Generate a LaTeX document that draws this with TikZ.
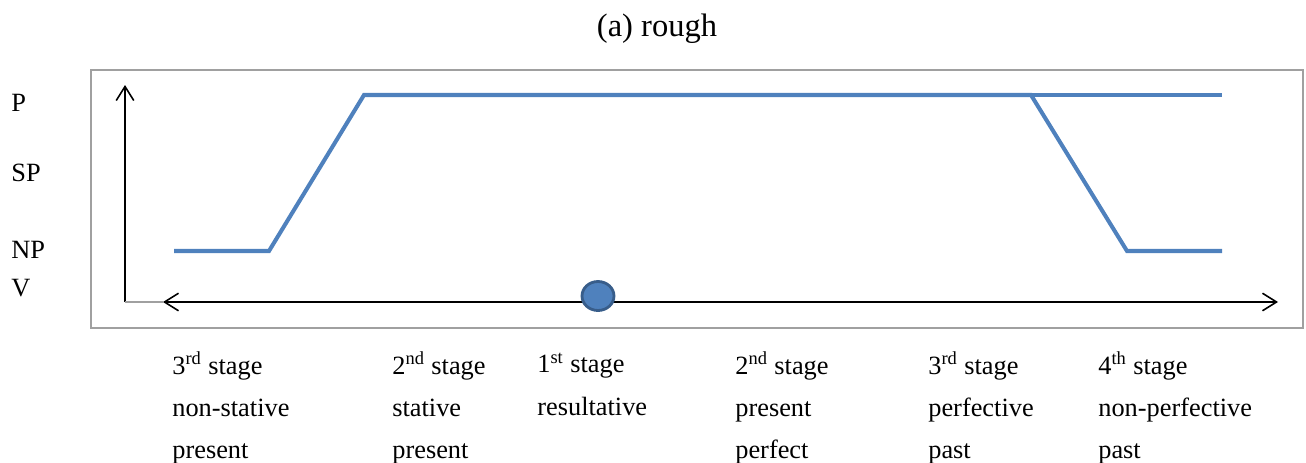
\documentclass[tikz,border=0pt]{standalone}
\usepackage{fontspec}
\setmainfont{Liberation Serif}
\usepackage{xcolor}
\usepackage{tikz}
\usetikzlibrary{arrows.meta,shapes,positioning,calc}

\definecolor{lineblue}{HTML}{4F81BD}
\definecolor{dotedge}{HTML}{385D8A}
\definecolor{framegray}{HTML}{A0A0A0}

\begin{document}
\begin{tikzpicture}[
    x=0.02cm, y=-0.02cm,
    every node/.style={inner sep=0pt, font=\fontsize{15}{17}\selectfont},
    level/.style={anchor=west},
    stagetxt/.style={anchor=west, align=left},
    axis/.style={black, line width=0.9pt, >={Straight Barb[length=8pt,width=10pt]}},
    curve/.style={lineblue, line width=2.3pt, line join=miter},
]
\useasboundingbox (0,0) rectangle (1306,463);

% Title
\node[font=\fontsize{18.5}{20}\selectfont] (title) at (657,29) {(a) rough};

% Frame
\draw[framegray, line width=1.2pt] (91,70) rectangle (1303,328);

% Level labels
\node[level] (lP) at (11,103) {P};
\node[level] (lSP) at (11,173) {SP};
\node[level] (lNP) at (11,250) {NP};
\node[level] (lV) at (11,288) {V};

% Axes
\coordinate (origin) at (125,302);
\coordinate (ytop) at (125,85);
\coordinate (xleft) at (163,302);
\coordinate (xright) at (1278,302);
\draw[axis, ->] (origin) -- (ytop);
\draw[framegray, line width=0.8pt] (origin) -- (xleft);
\draw[axis, <->] (xleft) -- (xright);

% Blue curve
\coordinate (c0) at (174,251);
\coordinate (c1) at (269,251);
\coordinate (c2) at (364,95);
\coordinate (c3) at (1031,95);
\coordinate (c4) at (1127,251);
\coordinate (c5) at (1222,251);
\coordinate (c6) at (1222,95);
\draw[curve] (c0) -- (c1) -- (c2) -- (c3) -- (c4) -- (c5);
\draw[curve] (c3) -- (c6);

% Present moment
\node[draw=dotedge, fill=lineblue, line width=1.6pt, ellipse,
      minimum width=0.64cm, minimum height=0.58cm] (now) at (598,296) {};

% Stage labels
\node[stagetxt] (s1) at (172,408) {3\textsuperscript{rd} stage\\[7pt]non-stative\\[7pt]present};
\node[stagetxt] (s2) at (392,408) {2\textsuperscript{nd} stage\\[7pt]stative\\[7pt]present};
\node[stagetxt, anchor=north west] (s3) at (537,353) {1\textsuperscript{st} stage\\[7pt]resultative};
\node[stagetxt] (s4) at (735,408) {2\textsuperscript{nd} stage\\[7pt]present\\[7pt]perfect};
\node[stagetxt] (s5) at (928,408) {3\textsuperscript{rd} stage\\[7pt]perfective\\[7pt]past};
\node[stagetxt] (s6) at (1098,408) {4\textsuperscript{th} stage\\[7pt]non-perfective\\[7pt]past};

\end{tikzpicture}
\end{document}
